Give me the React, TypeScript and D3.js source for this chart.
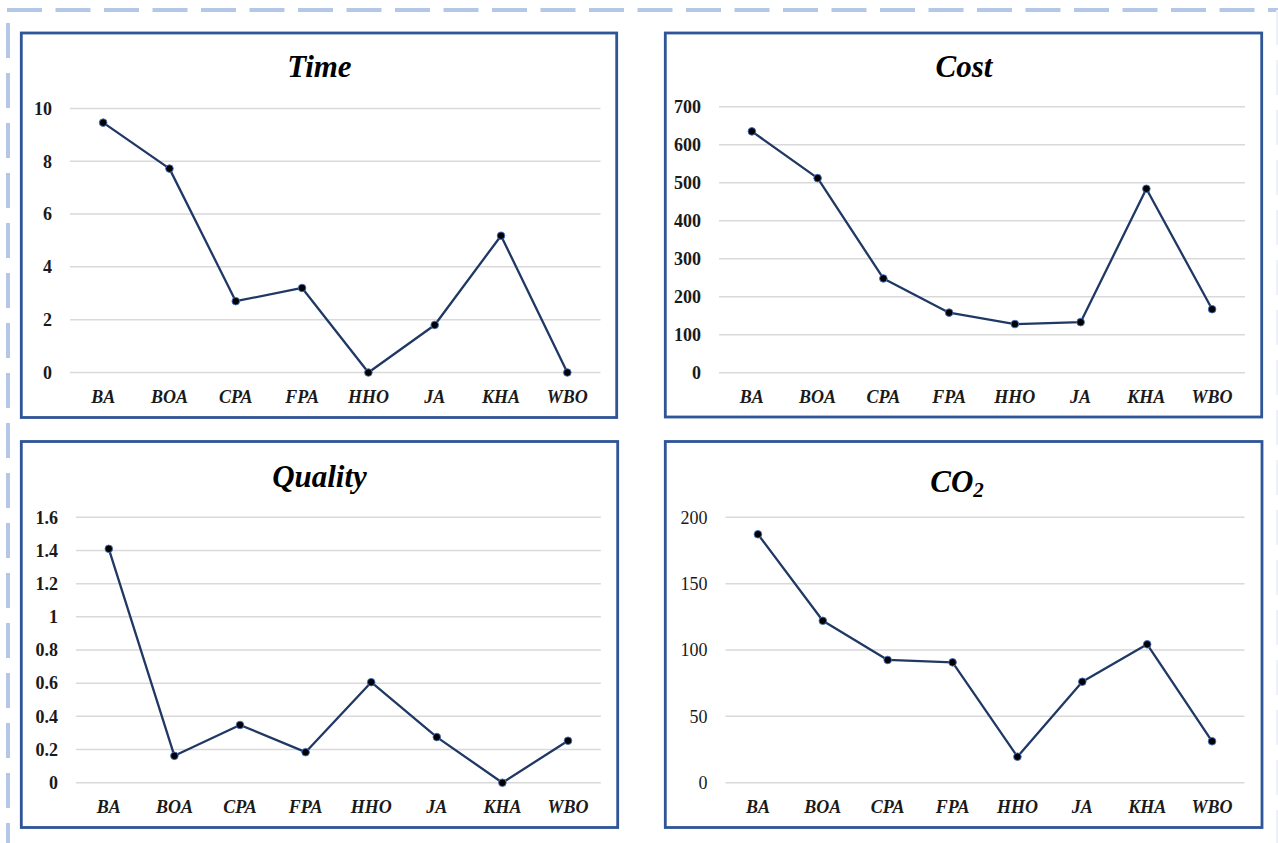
import React from "react";
import * as d3 from "d3";

const categories = ["BA", "BOA", "CPA", "FPA", "HHO", "JA", "KHA", "WBO"];
const timeValues = [9.46, 7.72, 2.7, 3.2, 0.0, 1.8, 5.18, 0.0];
const costValues = [635, 512, 248, 158, 128, 133, 484, 167];
const qualityValues = [1.41, 0.162, 0.348, 0.184, 0.606, 0.275, 0.0, 0.253];
const co2Values = [187.2, 122, 92.5, 90.7, 19.6, 76.1, 104.3, 31.2];

const timeTicks = [0, 2, 4, 6, 8, 10];
const costTicks = [0, 100, 200, 300, 400, 500, 600, 700];
const qualityTicks = [0, 0.2, 0.4, 0.6, 0.8, 1, 1.2, 1.4, 1.6];
const co2Ticks = [0, 50, 100, 150, 200];

type Panel = {
  title: string;
  sub?: string;
  values: number[];
  ticks: number[];
  box: [number, number, number, number];
  xr: [number, number];
  yr: [number, number];
  titleX: number;
  titleY: number;
  labelY: number;
  font: string;
  tickWeight: number;
};

const SERIF = "'Liberation Serif', 'Times New Roman', serif";

const panels: Panel[] = [
  {
    title: "Time", values: timeValues, ticks: timeTicks,
    box: [21.3, 33, 595.4, 384.5], xr: [70, 600.5], yr: [372.5, 108.4],
    titleX: 319.5, titleY: 77, labelY: 403, font: SERIF, tickWeight: 700,
  },
  {
    title: "Cost", values: costValues, ticks: costTicks,
    box: [665.3, 33, 596.4, 384], xr: [719, 1245], yr: [372.7, 106.7],
    titleX: 964, titleY: 77, labelY: 403, font: SERIF, tickWeight: 700,
  },
  {
    title: "Quality", values: qualityValues, ticks: qualityTicks,
    box: [21.3, 441.5, 596.4, 386], xr: [76, 600.8], yr: [782.7, 517.3],
    titleX: 319.5, titleY: 487, labelY: 813, font: SERIF, tickWeight: 700,
  },
  {
    title: "CO", sub: "2", values: co2Values, ticks: co2Ticks,
    box: [665.3, 441.5, 596.7, 386], xr: [725.5, 1244.5], yr: [782.7, 517.3],
    titleX: 957, titleY: 492, labelY: 813, font: SERIF, tickWeight: 400,
  },
];

const fmt = (t: number) => String(Number(t.toFixed(1)));

function ChartPanel({ p }: { p: Panel }) {
  const x = d3.scalePoint<string>().domain(categories).range(p.xr).padding(0.5);
  const y = d3
    .scaleLinear()
    .domain([0, p.ticks[p.ticks.length - 1]])
    .range(p.yr);
  const line = d3
    .line<number>()
    .x((_, i) => x(categories[i]) as number)
    .y((v) => y(v));
  const [bx, by, bw, bh] = p.box;
  return (
    <g>
      <rect x={bx} y={by} width={bw} height={bh} fill="#fff" stroke="#2e5597" strokeWidth={2.8} />
      {p.ticks.map((t) => (
        <g key={t}>
          <line x1={p.xr[0]} x2={p.xr[1]} y1={y(t)} y2={y(t)} stroke="#d9d9d9" strokeWidth={1.5} />
          <text
            x={p.xr[0] - 18}
            y={y(t)}
            dy="0.35em"
            textAnchor="end"
            fontFamily={p.font}
            fontWeight={p.tickWeight}
            fontSize={18}
            fill="#1a1a1a"
          >
            {fmt(t)}
          </text>
        </g>
      ))}
      {categories.map((c) => (
        <text
          key={c}
          x={x(c)}
          y={p.labelY}
          textAnchor="middle"
          fontFamily={p.font}
          fontStyle="italic"
          fontWeight={700}
          fontSize={18}
          fill="#1a1a1a"
        >
          {c}
        </text>
      ))}
      <path d={line(p.values) || ""} fill="none" stroke="#1f3864" strokeWidth={2.3} strokeLinejoin="round" />
      {p.values.map((v, i) => (
        <circle
          key={i}
          cx={x(categories[i])}
          cy={y(v)}
          r={3.8}
          fill="#000"
          stroke="#4472c4"
          strokeWidth={0.9}
        />
      ))}
      <text
        x={p.titleX}
        y={p.titleY}
        textAnchor="middle"
        fontFamily={p.font}
        fontStyle="italic"
        fontWeight={700}
        fontSize={31}
        fill="#000"
      >
        {p.title}
        {p.sub ? (
          <tspan fontSize={21} dy={5}>
            {p.sub}
          </tspan>
        ) : null}
      </text>
    </g>
  );
}

export default function App() {
  return (
    <svg
      width={1278}
      height={843}
      style={{ position: "absolute", left: 0, top: 0, display: "block", background: "#fff" }}
    >
      <rect x={0} y={0} width={1278} height={843} fill="#fff" />
      <line x1={7} x2={1278} y1={10} y2={10} stroke="#b4c7e7" strokeWidth={4} strokeDasharray="35 13.5" />
      <line x1={8} x2={8} y1={23} y2={843} stroke="#b4c7e7" strokeWidth={4} strokeDasharray="35 15" />
      <line x1={1278} x2={1278} y1={10} y2={843} stroke="#eef1f7" strokeWidth={4} strokeDasharray="35 15" />
      {panels.map((p) => (
        <ChartPanel key={p.title} p={p} />
      ))}
    </svg>
  );
}
